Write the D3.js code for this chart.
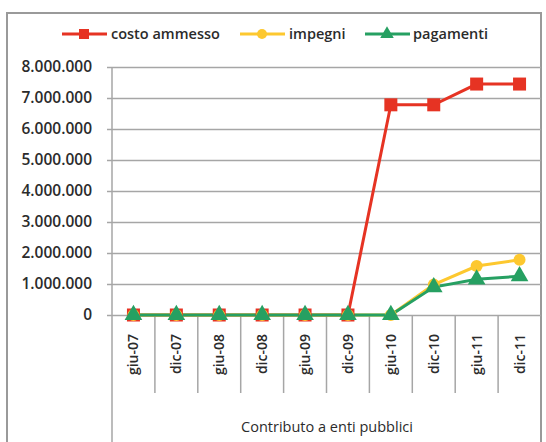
<!DOCTYPE html>
<html>
<head>
<meta charset="utf-8">
<script src="https://cdn.jsdelivr.net/npm/d3@7"></script>
<style>
  body { margin: 0; background: #fff; }
  svg { display: block; font-family: "Open Sans", sans-serif; }
</style>
</head>
<body>
<svg width="546" height="442"></svg>
<script>
'use strict'

const categories = ['giu-07', 'dic-07', 'giu-08', 'dic-08', 'giu-09', 'dic-09', 'giu-10', 'dic-10', 'giu-11', 'dic-11'];
const costoAmmesso = [0, 0, 0, 0, 0, 0, 6780000, 6780000, 7450000, 7450000];
const impegni = [0, 0, 0, 0, 0, 0, 0, 980000, 1580000, 1780000];
const pagamenti = [0, 0, 0, 0, 0, 0, 0, 900000, 1150000, 1250000];
const yTicks = [0, 1000000, 2000000, 3000000, 4000000, 5000000, 6000000, 7000000, 8000000];
const groupLabel = 'Contributo a enti pubblici';

const series = [
  { name: 'costo ammesso', values: costoAmmesso, color: '#e63323', shape: 'square' },
  { name: 'impegni', values: impegni, color: '#fdc82f', shape: 'circle' },
  { name: 'pagamenti', values: pagamenti, color: '#26a062', shape: 'triangle' }
];

const svg = d3.select('svg');
const plotLeft = 112, plotRight = 541, plotTop = 67, plotBottom = 315;
const textColor = '#2b2b2b';

// Outer frame
svg.append('rect')
  .attr('x', 7).attr('y', 13)
  .attr('width', 534).attr('height', 440)
  .attr('fill', 'none')
  .attr('stroke', '#9a9a9a')
  .attr('stroke-width', 2);

const x = d3.scaleBand().domain(categories).range([plotLeft, plotRight]);
const y = d3.scaleLinear().domain([0, 8000000]).range([plotBottom, plotTop]);

const fmt = v => d3.format(',')(v).replace(/,/g, '.');

// Y axis with gridlines
const yAxis = svg.append('g')
  .attr('transform', `translate(${plotLeft},0)`)
  .call(d3.axisLeft(y).tickValues(yTicks).tickFormat(fmt).tickSize(-(plotRight - plotLeft)).tickPadding(20));
yAxis.select('.domain').remove();
yAxis.selectAll('.tick line')
  .attr('x1', -5)
  .attr('stroke', '#a6a6a6')
  .attr('stroke-width', 1.5);
yAxis.selectAll('.tick text')
  .attr('font-size', 15.5)
  .attr('font-weight', 600)
  .attr('fill', textColor)
  .attr('font-family', '"Open Sans", sans-serif');

// Vertical axis line down to the bottom
svg.append('line')
  .attr('x1', plotLeft).attr('x2', plotLeft)
  .attr('y1', plotTop).attr('y2', 442)
  .attr('stroke', '#a6a6a6').attr('stroke-width', 1.5);

// Category separators
svg.append('g')
  .selectAll('line')
  .data(categories.slice(1))
  .join('line')
  .attr('x1', d => x(d)).attr('x2', d => x(d))
  .attr('y1', plotBottom).attr('y2', 393)
  .attr('stroke', '#a6a6a6').attr('stroke-width', 1.5);

// Category labels (rotated)
svg.append('g')
  .selectAll('text')
  .data(categories)
  .join('text')
  .attr('transform', d => `translate(${x(d) + x.bandwidth() / 2 + 5},334) rotate(-90)`)
  .attr('text-anchor', 'end')
  .attr('font-size', 14)
  .attr('font-weight', 600)
  .attr('fill', textColor)
  .text(d => d);

svg.append('text')
  .attr('x', 327).attr('y', 432)
  .attr('text-anchor', 'middle')
  .attr('font-size', 14.5)
  .attr('fill', textColor)
  .text(groupLabel);

function marker(g, shape, color, size) {
  if (shape === 'square') {
    g.append('rect').attr('x', -size / 2).attr('y', -size / 2)
      .attr('width', size).attr('height', size).attr('fill', color);
  } else if (shape === 'circle') {
    g.append('circle').attr('r', size / 2).attr('fill', color);
  } else {
    g.append('path').attr('d', d3.symbol(d3.symbolTriangle, size * size * 0.8)()).attr('fill', color);
  }
}

const line = d3.line()
  .x((d, i) => x(categories[i]) + x.bandwidth() / 2)
  .y(d => y(d));

series.forEach(s => {
  svg.append('path')
    .datum(s.values)
    .attr('d', line)
    .attr('fill', 'none')
    .attr('stroke', s.color)
    .attr('stroke-width', 3);
});

series.forEach(s => {
  s.values.forEach((v, i) => {
    const g = svg.append('g')
      .attr('transform', `translate(${x(categories[i]) + x.bandwidth() / 2},${y(v)})`);
    marker(g, s.shape, s.color, s.shape === 'circle' ? 12 : 13);
  });
});

// Legend
const legendItems = [
  { x: 62, tx: 111 },
  { x: 240, tx: 289 },
  { x: 365, tx: 413 }
];
series.forEach((s, i) => {
  const li = legendItems[i];
  const g = svg.append('g').attr('transform', `translate(0,34)`);
  g.append('line')
    .attr('x1', li.x).attr('x2', li.x + 45)
    .attr('stroke', s.color).attr('stroke-width', 3);
  const m = g.append('g').attr('transform', `translate(${li.x + 22},0)`);
  marker(m, s.shape, s.color, 10);
  g.append('text')
    .attr('x', li.tx).attr('y', 5)
    .attr('font-size', 14.5)
    .attr('font-weight', 600)
    .attr('fill', textColor)
    .text(s.name);
});
</script>
</body>
</html>
